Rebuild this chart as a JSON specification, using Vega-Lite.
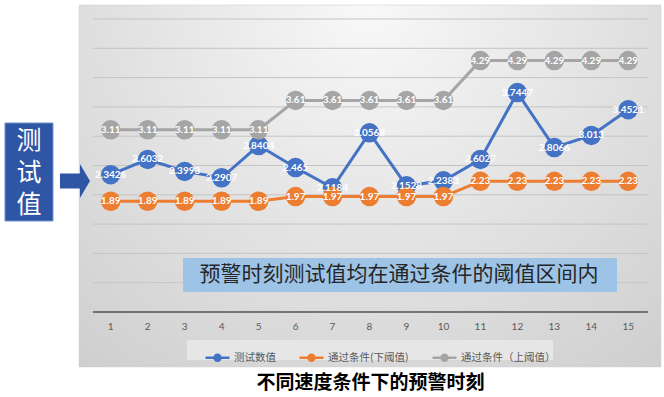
{
  "$schema": "https://vega.github.io/schema/vega-lite/v6.json",
  "width": 664,
  "height": 397,
  "autosize": {"type": "none"},
  "padding": 0,
  "background": "#ffffff",
  "config": {"view": {"stroke": null}, "font": "Noto Sans CJK SC"},
  "title": {
    "text": "不同速度条件下的预警时刻",
    "orient": "bottom",
    "anchor": "middle",
    "frame": "group",
    "offset": -14,
    "baseline": "middle",
    "dx": 38.5,
    "fontSize": 19,
    "fontWeight": "bold",
    "color": "#000000",
    "font": "Noto Sans CJK SC"
  },
  "datasets": {
    "pts": [
      {"x": 1, "v": 2.3426, "s": "测试数值"},
      {"x": 2, "v": 2.6032, "s": "测试数值"},
      {"x": 3, "v": 2.3993, "s": "测试数值"},
      {"x": 4, "v": 2.2907, "s": "测试数值"},
      {"x": 5, "v": 2.8404, "s": "测试数值"},
      {"x": 6, "v": 2.465, "s": "测试数值"},
      {"x": 7, "v": 2.1184, "s": "测试数值"},
      {"x": 8, "v": 3.0568, "s": "测试数值"},
      {"x": 9, "v": 2.1528, "s": "测试数值"},
      {"x": 10, "v": 2.2383, "s": "测试数值"},
      {"x": 11, "v": 2.6027, "s": "测试数值"},
      {"x": 12, "v": 3.7447, "s": "测试数值"},
      {"x": 13, "v": 2.8066, "s": "测试数值"},
      {"x": 14, "v": 3.013, "s": "测试数值"},
      {"x": 15, "v": 3.4521, "s": "测试数值"},
      {"x": 1, "v": 1.89, "s": "通过条件(下阈值)"},
      {"x": 2, "v": 1.89, "s": "通过条件(下阈值)"},
      {"x": 3, "v": 1.89, "s": "通过条件(下阈值)"},
      {"x": 4, "v": 1.89, "s": "通过条件(下阈值)"},
      {"x": 5, "v": 1.89, "s": "通过条件(下阈值)"},
      {"x": 6, "v": 1.97, "s": "通过条件(下阈值)"},
      {"x": 7, "v": 1.97, "s": "通过条件(下阈值)"},
      {"x": 8, "v": 1.97, "s": "通过条件(下阈值)"},
      {"x": 9, "v": 1.97, "s": "通过条件(下阈值)"},
      {"x": 10, "v": 1.97, "s": "通过条件(下阈值)"},
      {"x": 11, "v": 2.23, "s": "通过条件(下阈值)"},
      {"x": 12, "v": 2.23, "s": "通过条件(下阈值)"},
      {"x": 13, "v": 2.23, "s": "通过条件(下阈值)"},
      {"x": 14, "v": 2.23, "s": "通过条件(下阈值)"},
      {"x": 15, "v": 2.23, "s": "通过条件(下阈值)"},
      {"x": 1, "v": 3.11, "s": "通过条件（上阈值）"},
      {"x": 2, "v": 3.11, "s": "通过条件（上阈值）"},
      {"x": 3, "v": 3.11, "s": "通过条件（上阈值）"},
      {"x": 4, "v": 3.11, "s": "通过条件（上阈值）"},
      {"x": 5, "v": 3.11, "s": "通过条件（上阈值）"},
      {"x": 6, "v": 3.61, "s": "通过条件（上阈值）"},
      {"x": 7, "v": 3.61, "s": "通过条件（上阈值）"},
      {"x": 8, "v": 3.61, "s": "通过条件（上阈值）"},
      {"x": 9, "v": 3.61, "s": "通过条件（上阈值）"},
      {"x": 10, "v": 3.61, "s": "通过条件（上阈值）"},
      {"x": 11, "v": 4.29, "s": "通过条件（上阈值）"},
      {"x": 12, "v": 4.29, "s": "通过条件（上阈值）"},
      {"x": 13, "v": 4.29, "s": "通过条件（上阈值）"},
      {"x": 14, "v": 4.29, "s": "通过条件（上阈值）"},
      {"x": 15, "v": 4.29, "s": "通过条件（上阈值）"}
    ],
    "one": [{"k": 1}],
    "ticks": [
      {"t": 1}, {"t": 2}, {"t": 3}, {"t": 4}, {"t": 5}, {"t": 6}, {"t": 7}, {"t": 8},
      {"t": 9}, {"t": 10}, {"t": 11}, {"t": 12}, {"t": 13}, {"t": 14}, {"t": 15}
    ],
    "grid": [
      {"g": 0.5}, {"g": 1}, {"g": 1.5}, {"g": 2}, {"g": 2.5},
      {"g": 3}, {"g": 3.5}, {"g": 4}, {"g": 4.5}, {"g": 5}
    ]
  },
  "layer": [
    {
      "data": {"name": "one"},
      "mark": {
        "type": "rect",
        "fill": {
          "gradient": "radial",
          "x1": 0.5, "y1": 0.2, "r1": 0,
          "x2": 0.5, "y2": 0.2, "r2": 0.95,
          "stops": [
            {"offset": 0, "color": "#f8f8f8"},
            {"offset": 1, "color": "#c6c6c6"}
          ]
        },
        "stroke": "#d0d0d0",
        "strokeWidth": 0.5
      },
      "encoding": {
        "x": {"datum": 0.143, "type": "quantitative", "scale": {"domain": [-1.994, 15.966], "nice": false, "zero": false}, "axis": null},
        "x2": {"datum": 15.885},
        "y": {"datum": 5.239, "type": "quantitative", "scale": {"domain": [-1.4505, 5.3242], "nice": false, "zero": false}, "axis": null},
        "y2": {"datum": -0.939}
      }
    },
    {
      "data": {"name": "one"},
      "mark": {"type": "rect", "fill": "#e6e6e6"},
      "encoding": {
        "x": {"datum": 3.064, "type": "quantitative", "axis": null},
        "x2": {"datum": 12.964},
        "y": {"datum": -0.478, "type": "quantitative", "axis": null},
        "y2": {"datum": -0.819}
      }
    },
    {
      "data": {"name": "grid"},
      "mark": {"type": "rule", "color": "#c4c4c4", "strokeWidth": 1},
      "encoding": {
        "x": {"datum": 0.52, "type": "quantitative", "axis": null},
        "x2": {"datum": 15.53},
        "y": {"field": "g", "type": "quantitative", "axis": null}
      }
    },
    {
      "data": {"name": "one"},
      "mark": {"type": "rule", "color": "#505050", "strokeWidth": 1.5},
      "encoding": {
        "x": {"datum": 0.52, "type": "quantitative", "axis": null},
        "x2": {"datum": 15.53},
        "y": {"datum": 0, "type": "quantitative", "axis": null}
      }
    },
    {
      "data": {"name": "ticks"},
      "mark": {"type": "text", "color": "#595959", "font": "Lato", "fontSize": 10, "align": "center", "baseline": "middle"},
      "encoding": {
        "x": {"field": "t", "type": "quantitative", "axis": null},
        "y": {"datum": -0.256, "type": "quantitative", "axis": null},
        "text": {"field": "t", "type": "nominal"}
      }
    },
    {
      "data": {"name": "pts"},
      "mark": {"type": "line", "strokeWidth": 3},
      "encoding": {
        "x": {"field": "x", "type": "quantitative", "axis": null},
        "y": {"field": "v", "type": "quantitative", "axis": null},
        "color": {
          "field": "s", "type": "nominal",
          "scale": {"domain": ["测试数值", "通过条件(下阈值)", "通过条件（上阈值）"], "range": ["#4472C4", "#ED7D31", "#A5A5A5"]},
          "legend": {
            "orient": "none", "legendX": 204, "legendY": 344, "direction": "horizontal", "title": null,
            "symbolType": "M-1,0L1,0M-0.25,0A0.25,0.25 0 1,0 0.25,0A0.25,0.25 0 1,0 -0.25,0Z",
            "symbolSize": 576, "symbolStrokeWidth": 2.5,
            "labelFontSize": 10.5, "labelColor": "#595959", "labelFont": "Noto Sans CJK SC",
            "columnPadding": 18, "labelOffset": 3, "padding": 0,
            "encode": {"symbols": {"update": {"fill": {"scale": "color", "field": "value"}, "stroke": {"scale": "color", "field": "value"}}}}
          }
        },
        "order": {"field": "x", "type": "quantitative"}
      }
    },
    {
      "data": {"name": "pts"},
      "mark": {"type": "point", "filled": true, "size": 380, "opacity": 1, "shape": "circle"},
      "encoding": {
        "x": {"field": "x", "type": "quantitative", "axis": null},
        "y": {"field": "v", "type": "quantitative", "axis": null},
        "color": {"field": "s", "type": "nominal", "legend": null}
      }
    },
    {
      "data": {"name": "pts"},
      "mark": {"type": "text", "color": "#ffffff", "font": "Lato", "fontWeight": "bold", "fontSize": 10, "align": "center", "baseline": "middle"},
      "encoding": {
        "x": {"field": "x", "type": "quantitative", "axis": null},
        "y": {"field": "v", "type": "quantitative", "axis": null},
        "text": {"field": "v", "type": "nominal"}
      }
    },
    {
      "data": {"name": "one"},
      "mark": {"type": "rect", "fill": "#2F55A5", "stroke": "#6F8FD0", "strokeWidth": 1},
      "encoding": {
        "x": {"datum": -1.859, "type": "quantitative", "axis": null},
        "x2": {"datum": -0.561},
        "y": {"datum": 3.225, "type": "quantitative", "axis": null},
        "y2": {"datum": 1.553}
      }
    },
    {
      "data": {"name": "one"},
      "mark": {"type": "text", "color": "#ffffff", "fontSize": 25, "lineHeight": 32, "align": "center", "baseline": "middle", "font": "Noto Sans CJK SC"},
      "encoding": {
        "x": {"datum": -1.21, "type": "quantitative", "axis": null},
        "y": {"datum": 2.918, "type": "quantitative", "axis": null},
        "text": {"value": ["测", "试", "值"]}
      }
    },
    {
      "data": {"name": "one"},
      "mark": {
        "type": "point", "filled": true, "opacity": 1, "color": "#2F55A5", "size": 1296,
        "shape": "M-0.833,-0.417L0.278,-0.417L0.278,-0.944L0.833,0L0.278,0.944L0.278,0.417L-0.833,0.417Z"
      },
      "encoding": {
        "x": {"datum": 0.034, "type": "quantitative", "axis": null},
        "y": {"datum": 2.235, "type": "quantitative", "axis": null}
      }
    },
    {
      "data": {"name": "one"},
      "mark": {"type": "rect", "fill": "#9DC3E6"},
      "encoding": {
        "x": {"datum": 2.956, "type": "quantitative", "axis": null},
        "x2": {"datum": 14.695},
        "y": {"datum": 0.9215, "type": "quantitative", "axis": null},
        "y2": {"datum": 0.3413}
      }
    },
    {
      "data": {"name": "one"},
      "mark": {"type": "text", "color": "#262626", "fontSize": 21, "align": "center", "baseline": "middle", "font": "Noto Sans CJK SC"},
      "encoding": {
        "x": {"datum": 8.798, "type": "quantitative", "axis": null},
        "y": {"datum": 0.631, "type": "quantitative", "axis": null},
        "text": {"value": "预警时刻测试值均在通过条件的阈值区间内"}
      }
    }
  ]
}
